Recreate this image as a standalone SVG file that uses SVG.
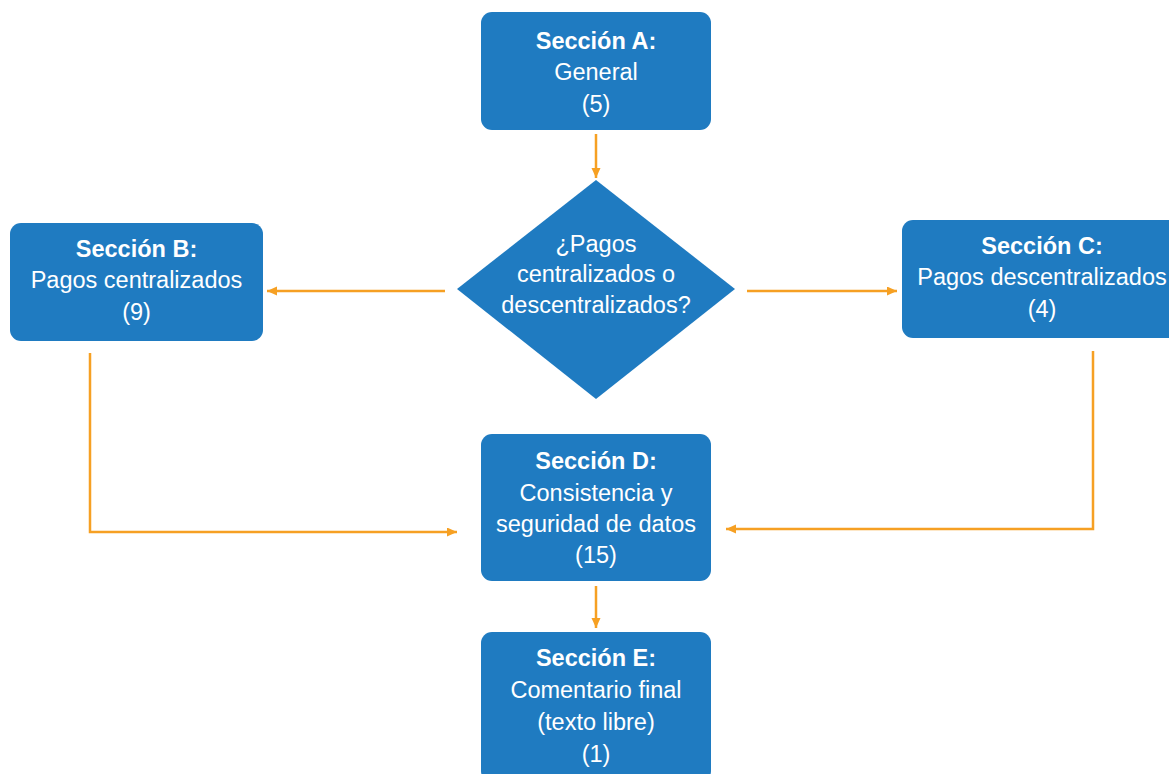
<svg xmlns="http://www.w3.org/2000/svg" width="1169" height="774" viewBox="0 0 1169 774">
  <style>
    .box { fill: #1F7BC1; }
    .lbl { font-family: "Liberation Sans", Arial, sans-serif; font-size: 23.5px; fill: #FFFFFF; text-anchor: middle; }
    .hd { font-weight: bold; }
    .conn { fill: none; stroke: #F6A023; stroke-width: 2.5; marker-end: url(#arrow); }
  </style>
  <defs>
    <marker id="arrow" markerUnits="userSpaceOnUse" markerWidth="11" markerHeight="10" refX="10" refY="4.5" orient="auto">
      <path d="M0,0 L10,4.5 L0,9 z" fill="#F6A023"/>
    </marker>
  </defs>
  <rect width="1169" height="774" fill="#FFFFFF"/>

  <g id="connectors">
    <path class="conn" d="M596,134 L596,178"/>
    <path class="conn" d="M445,291 L267,291"/>
    <path class="conn" d="M747,291 L897,291"/>
    <path class="conn" d="M90,353 L90,532 L457,532"/>
    <path class="conn" d="M1093,351 L1093,529 L726,529"/>
    <path class="conn" d="M596,586 L596,628"/>
  </g>

  <g id="seccion-a">
    <rect class="box" x="481" y="12" width="230" height="118" rx="11"/>
    <text class="lbl hd" x="596" y="49">Sección A:</text>
    <text class="lbl" x="596" y="80">General</text>
    <text class="lbl" x="596" y="112">(5)</text>
  </g>

  <g id="decision">
    <polygon class="box" points="596,180 735,289 596,399 457,289"/>
    <text class="lbl" x="596" y="252">¿Pagos</text>
    <text class="lbl" x="596" y="282">centralizados o</text>
    <text class="lbl" x="596" y="313">descentralizados?</text>
  </g>

  <g id="seccion-b">
    <rect class="box" x="10" y="223" width="253" height="118" rx="11"/>
    <text class="lbl hd" x="136.5" y="257">Sección B:</text>
    <text class="lbl" x="136.5" y="288">Pagos centralizados</text>
    <text class="lbl" x="136.5" y="320">(9)</text>
  </g>

  <g id="seccion-c">
    <rect class="box" x="902" y="220" width="280" height="118" rx="11"/>
    <text class="lbl hd" x="1042" y="254">Sección C:</text>
    <text class="lbl" x="1042" y="285">Pagos descentralizados</text>
    <text class="lbl" x="1042" y="317">(4)</text>
  </g>

  <g id="seccion-d">
    <rect class="box" x="481" y="434" width="230" height="147" rx="11"/>
    <text class="lbl hd" x="596" y="469">Sección D:</text>
    <text class="lbl" x="596" y="501">Consistencia y</text>
    <text class="lbl" x="596" y="532">seguridad de datos</text>
    <text class="lbl" x="596" y="563">(15)</text>
  </g>

  <g id="seccion-e">
    <rect class="box" x="481" y="632" width="230" height="150" rx="11"/>
    <text class="lbl hd" x="596" y="666">Sección E:</text>
    <text class="lbl" x="596" y="698">Comentario final</text>
    <text class="lbl" x="596" y="730">(texto libre)</text>
    <text class="lbl" x="596" y="762">(1)</text>
  </g>
</svg>
